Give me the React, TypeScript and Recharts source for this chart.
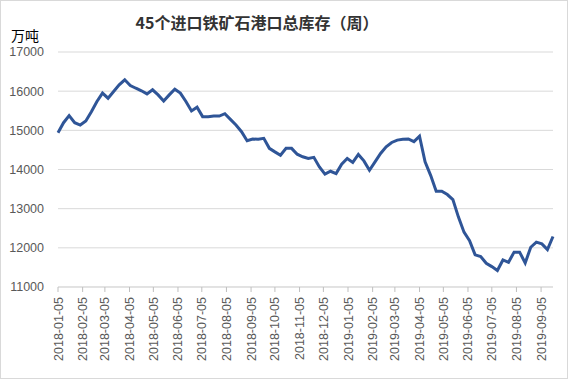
import { LineChart, Line, XAxis, YAxis, CartesianGrid } from "recharts";

const START = "2018-01-05";

// weekly port stocks, 万吨
const stock = [
  14940, 15195, 15375, 15195, 15135, 15240, 15475, 15735, 15950, 15820,
  15990, 16160, 16290, 16145, 16075, 16010, 15930, 16035, 15905, 15750,
  15905, 16050, 15950, 15735, 15495, 15590, 15350, 15350, 15365, 15365,
  15425, 15280, 15135, 14965, 14735, 14780, 14770, 14795, 14540, 14450,
  14365, 14540, 14540, 14390, 14325, 14280, 14310, 14065, 13880, 13955,
  13895, 14135, 14280, 14180, 14385, 14220, 13980, 14195, 14410, 14580,
  14690, 14750, 14770, 14780, 14710, 14850, 14195, 13850, 13445, 13445,
  13360, 13230, 12785, 12400, 12185, 11820, 11780, 11605, 11520, 11420,
  11690, 11630, 11890, 11890, 11615, 12015, 12145, 12100, 11955, 12290,
];

const monthTicks = [
  "2018-01-05", "2018-02-05", "2018-03-05", "2018-04-05", "2018-05-05",
  "2018-06-05", "2018-07-05", "2018-08-05", "2018-09-05", "2018-10-05",
  "2018-11-05", "2018-12-05", "2019-01-05", "2019-02-05", "2019-03-05",
  "2019-04-05", "2019-05-05", "2019-06-05", "2019-07-05", "2019-08-05",
  "2019-09-05",
];

const yTicks = [11000, 12000, 13000, 14000, 15000, 16000, 17000];

const dayOf = (s: string) => (Date.parse(s) - Date.parse(START)) / 86400000;

const data = stock.map((v, i) => ({ day: i * 7, value: v }));
const tickDays = monthTicks.map(dayOf);
const labelByDay: Record<number, string> = {};
monthTicks.forEach((m, i) => (labelByDay[tickDays[i]] = m));

const FONT = "'Liberation Sans', Arial, sans-serif";

const DateTick = (props: any) => {
  const { x, y, payload } = props;
  return (
    <g transform={`translate(${x},${y + 3})`}>
      <text
        transform="rotate(-90)"
        textAnchor="end"
        dy={4.5}
        fontSize={12.5}
        fontFamily={FONT}
        fill="#595959"
      >
        {labelByDay[payload.value]}
      </text>
    </g>
  );
};

export default function App() {
  return (
    <div
      style={{
        position: "absolute",
        left: 0,
        top: 0,
        width: 568,
        height: 379,
        background: "#fff",
      }}
    >
      <LineChart
        width={568}
        height={379}
        data={data}
        margin={{ top: 52, right: 15, left: 0, bottom: 0 }}
      >
        <CartesianGrid vertical={false} stroke="#d9d9d9" />
        <XAxis
          type="number"
          dataKey="day"
          domain={[0, (stock.length - 1) * 7]}
          ticks={tickDays}
          interval={0}
          height={92}
          tick={<DateTick />}
          tickSize={5}
          tickLine={{ stroke: "#bfbfbf" }}
          axisLine={{ stroke: "#d9d9d9" }}
        />
        <YAxis
          domain={[11000, 17000]}
          ticks={yTicks}
          interval={0}
          width={58}
          axisLine={false}
          tickLine={false}
          tickSize={0}
          tickMargin={14}
          tick={{ fill: "#595959", fontSize: 12.5, fontFamily: FONT }}
        />
        <Line
          type="linear"
          dataKey="value"
          stroke="#2f5597"
          strokeWidth={3}
          dot={false}
          isAnimationActive={false}
        />
      </LineChart>
      <div
        style={{
          position: "absolute",
          left: 0,
          top: 10,
          width: 514,
          textAlign: "center",
          fontFamily: "'Noto Sans CJK SC', sans-serif",
          fontWeight: "bold",
          fontSize: 16,
          color: "#333",
          lineHeight: "24px",
        }}
      >
        45个进口铁矿石港口总库存（周）
      </div>
      <div
        style={{
          position: "absolute",
          left: 11,
          top: 26,
          fontFamily: "'Noto Sans CJK SC', sans-serif",
          fontSize: 14,
          color: "#000",
          lineHeight: "18px",
        }}
      >
        万吨
      </div>
      <div
        style={{
          position: "absolute",
          left: 0,
          top: 0,
          width: 568,
          height: 379,
          boxSizing: "border-box",
          border: "1px solid #d9d9d9",
          pointerEvents: "none",
        }}
      />
    </div>
  );
}
